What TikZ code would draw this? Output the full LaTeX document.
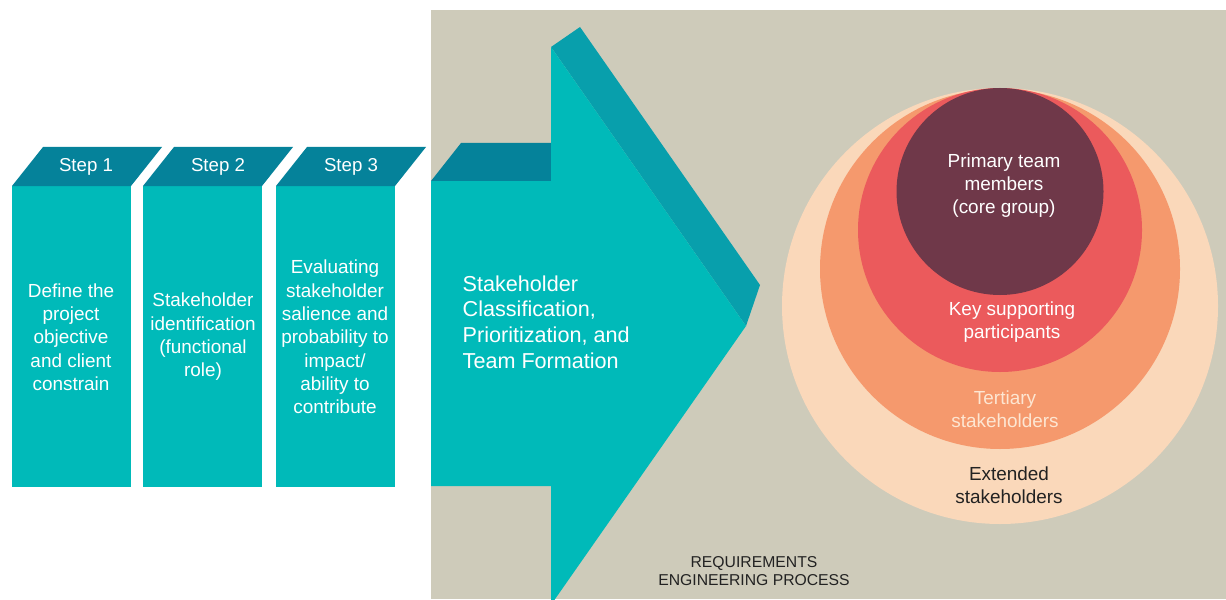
\documentclass[tikz,border=0pt]{standalone}
\usepackage{fontspec}
\setmainfont{Liberation Sans}
\definecolor{teal1}{HTML}{00BAB9}
\definecolor{tealtop}{HTML}{05829A}
\definecolor{tealside}{HTML}{089FAC}
\definecolor{bggray}{HTML}{CECBBA}
\definecolor{core}{HTML}{6F3849}
\definecolor{keyred}{HTML}{EB5A5C}
\definecolor{tert}{HTML}{F5996D}
\definecolor{ext}{HTML}{FAD8BA}
\definecolor{terttext}{HTML}{FDE6D2}
\definecolor{darktext}{HTML}{222222}
\tikzset{
  steptitle/.style={text=white, font=\fontsize{14}{17}\selectfont},
  stepbody/.style={text=white, align=center, font=\fontsize{14.2}{17.5}\selectfont},
  ringtext/.style={align=center, font=\fontsize{14.2}{17.3}\selectfont},
  arrowtext/.style={text=white, align=left, font=\fontsize{16.2}{19.2}\selectfont, anchor=west},
}
\begin{document}
\begin{tikzpicture}[x=0.75pt,y=-0.75pt]
\useasboundingbox (0,0) rectangle (1226,599);
\fill[white] (0,0) rectangle (1226,599);
% background panel
\fill[bggray] (431,10) rectangle (1226,599);
% steps
\foreach \xl/\name in {12/s1,143/s2,276/s3}{
  \fill[teal1] (\xl,186) rectangle ++(119,301);
  \fill[tealtop] (\xl,186) -- ++(31,-39) -- ++(119,0) -- ++(-31,39) -- cycle;
}
\node[steptitle] (t1) at (86,167) {Step 1};
\node[steptitle] (t2) at (218,167) {Step 2};
\node[steptitle] (t3) at (351,167) {Step 3};
\node[stepbody] (b1) at (71,337) {Define the\\project\\objective\\and client\\constrain};
\node[stepbody] (b2) at (203,337) {Stakeholder\\identification\\(functional\\role)};
\node[stepbody] (b3) at (335,337) {Evaluating\\stakeholder\\salience and\\probability to\\impact/\\ability to\\contribute};
% big arrow
\fill[tealtop] (431,181) -- (461,143) -- (551,143) -- (551,181) -- cycle;
\fill[tealside] (551,47) -- (580,27) -- (760,285) -- (746,326) -- cycle;
\fill[teal1] (431,181) -- (551,181) -- (551,47) -- (746,326) -- (553,602) -- (551,602) -- (551,486) -- (431,486) -- cycle;
\node[arrowtext] (arr) at (458,322) {Stakeholder\\Classification,\\Prioritization, and\\Team Formation};
% rings
\fill[ext] (1000,306) circle (218);
\fill[tert] (1000,269) circle (180);
\fill[keyred] (1000,230) circle (142);
\fill[core] (1000,191.5) circle (103.5);
\node[ringtext, text=white] (r1) at (1004,186) {Primary team\\members\\(core group)};
\node[ringtext, text=white] (r2) at (1012,322.5) {Key supporting\\participants};
\node[ringtext, text=terttext] (r3) at (1005,409.5) {Tertiary\\stakeholders};
\node[ringtext, text=darktext] (r4) at (1009,485.5) {Extended\\stakeholders};
% caption
\node[align=center, text=darktext, font=\fontsize{11.8}{13.5}\selectfont] (cap) at (754,571) {REQUIREMENTS\\ENGINEERING PROCESS};
\end{tikzpicture}
\end{document}
